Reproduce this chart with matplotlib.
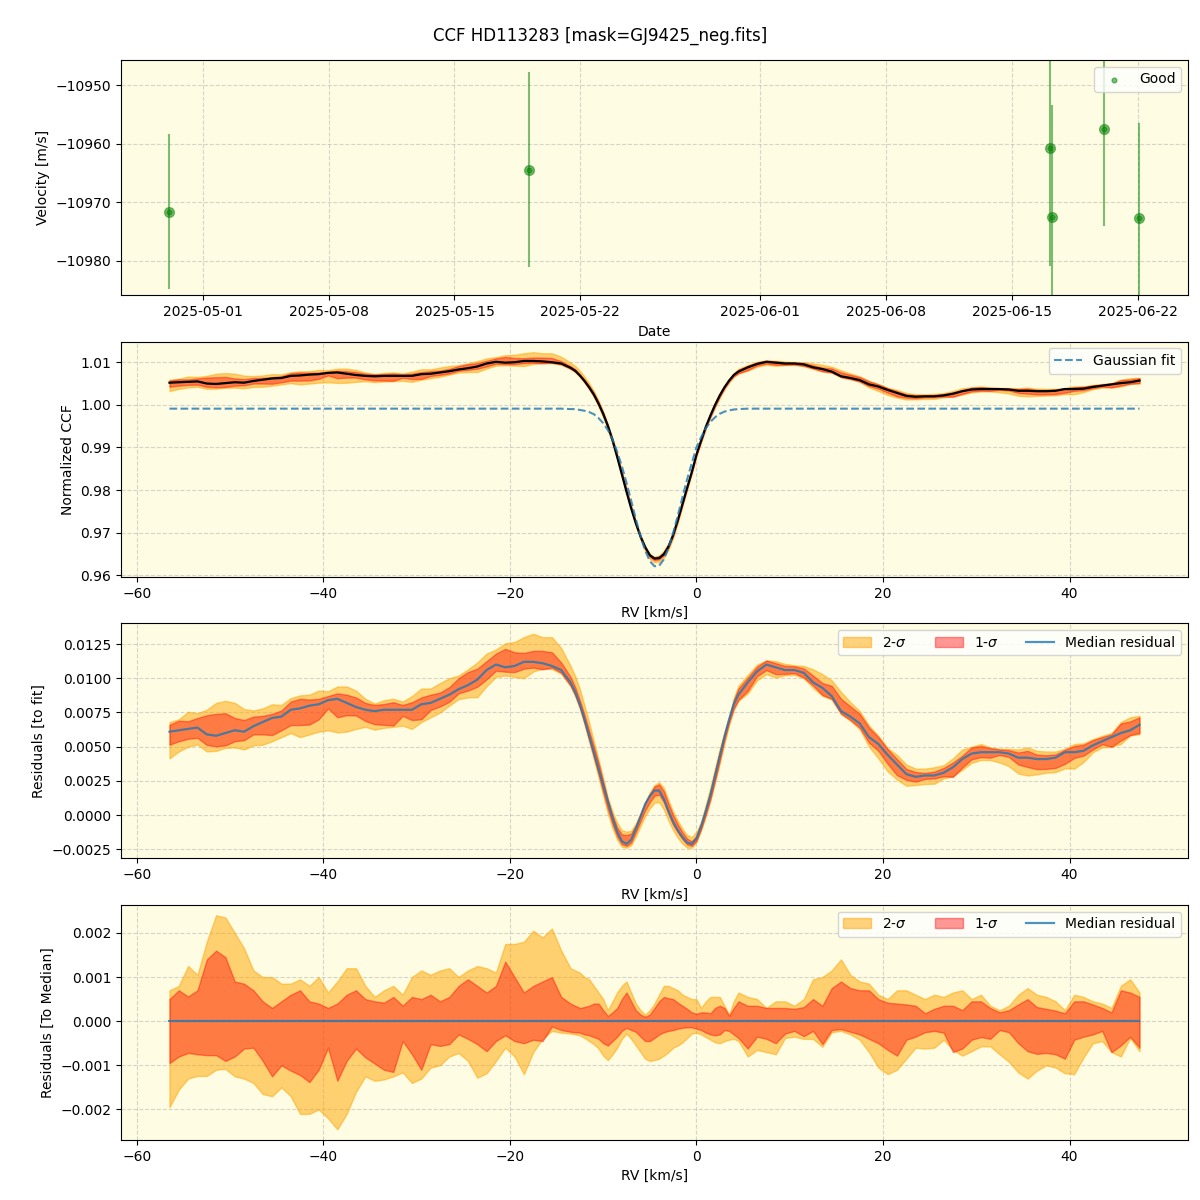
import numpy as np
import pandas as pd
import matplotlib
matplotlib.use("Agg")
import matplotlib.pyplot as plt
import matplotlib.dates as mdates

# --- RV time series (top panel) ---
dates = ["2025-04-29 03:36", "2025-05-19 04:00", "2025-06-17 02:24",
         "2025-06-17 05:16", "2025-06-20 02:24", "2025-06-22 02:24"]
velocity = [-10971.6, -10964.4, -10960.8, -10972.5, -10957.5, -10972.6]
vel_err = [13.2, 16.6, 20.0, 19.2, 16.5, 16.1]

# --- CCF profiles: 1 km/s steps on the wings, 0.5 km/s across the line ---
rv = np.concatenate([np.arange(-56.5, -14.0, 1.0),
                     np.arange(-13.5, 4.75, 0.5),
                     np.arange(5.5, 48.0, 1.0)])

gauss_fit = [0.9991] * 43 + [
    0.9990, 0.9990, 0.9988, 0.9986, 0.9983, 0.9978, 0.9969, 0.9957, 0.9941, 0.9919,
    0.9890, 0.9856, 0.9817, 0.9775, 0.9732, 0.9692, 0.9658, 0.9633, 0.9621, 0.9622,
    0.9637, 0.9664, 0.9699, 0.9740, 0.9783, 0.9825, 0.9863, 0.9900, 0.9924, 0.9945,
    0.9960, 0.9971, 0.9979, 0.9984, 0.9987, 0.9989, 0.9990] + [0.9991] * 43

# median CCF minus gaussian fit
median_resid = [
    0.0061, 0.0062, 0.0063, 0.0064, 0.0059, 0.0058, 0.0060, 0.0062, 0.0061, 0.0065,
    0.0068, 0.0071, 0.0072, 0.0077, 0.0078, 0.0080, 0.0081, 0.0084, 0.0085, 0.0082,
    0.0079, 0.0077, 0.0076, 0.0077, 0.0077, 0.0077, 0.0077, 0.0081, 0.0082, 0.0085,
    0.0088, 0.0092, 0.0095, 0.0099, 0.0106, 0.0110, 0.0108, 0.0109, 0.0112, 0.0112,
    0.0111, 0.0109, 0.0106] + [
    0.0097, 0.0090, 0.0081, 0.0070, 0.0058, 0.0046, 0.0034, 0.0022, 0.0010, -0.0002,
    -0.0012, -0.0019, -0.0021, -0.0018, -0.0010, -0.0001, 0.0008, 0.0014, 0.0018, 0.0018,
    0.0012, 0.0003, -0.0005, -0.0011, -0.0016, -0.0020, -0.0021, -0.0017, -0.0008, 0.0003,
    0.0015, 0.0029, 0.0043, 0.0057, 0.0070, 0.0081, 0.0088] + [
    0.0097, 0.0105, 0.0110, 0.0108, 0.0106, 0.0106, 0.0104, 0.0097,
    0.0093, 0.0087, 0.0076, 0.0072, 0.0067, 0.0057, 0.0052, 0.0044, 0.0037, 0.0030,
    0.0028, 0.0029, 0.0029, 0.0031, 0.0035, 0.0041, 0.0045, 0.0046, 0.0046, 0.0046,
    0.0045, 0.0042, 0.0042, 0.0041, 0.0041, 0.0042, 0.0046, 0.0046, 0.0047, 0.0051,
    0.0054, 0.0057, 0.0060, 0.0062, 0.0066]

# band edges relative to the median, in units of 1e-3
up2 = [
    0.7, 0.8, 1.25, 1.05, 1.8, 2.4, 2.35, 2.0, 1.65, 1.15,
    1.0, 1.0, 0.85, 0.85, 0.95, 0.8, 1.0, 0.65, 0.9, 1.2,
    1.2, 0.8, 0.55, 0.7, 0.8, 0.6, 1.0, 1.15, 1.05, 1.15,
    1.2, 1.0, 1.15, 1.25, 1.2, 1.1, 1.75, 1.75, 1.8, 2.05,
    1.9, 2.1, 1.6] + [
    1.2, 1.15, 1.1, 1.0, 0.95, 0.8, 0.65, 0.5, 0.25, 0.45,
    0.65, 0.8, 0.9, 0.65, 0.4, 0.25, 0.15, 0.25, 0.4, 0.6,
    0.8, 0.8, 0.75, 0.7, 0.6, 0.55, 0.5, 0.5, 0.3, 0.45,
    0.55, 0.55, 0.55, 0.35, 0.15, 0.45, 0.65] + [
    0.55, 0.5, 0.3, 0.45, 0.45, 0.35, 0.5, 0.95,
    1.0, 1.15, 1.4, 1.05, 0.9, 0.85, 0.6, 0.5, 0.7, 0.7,
    0.6, 0.5, 0.6, 0.55, 0.65, 0.7, 0.5, 0.6, 0.35, 0.25,
    0.35, 0.6, 0.75, 0.6, 0.55, 0.45, 0.25, 0.6, 0.55, 0.45,
    0.4, 0.3, 0.8, 0.95, 0.65]
up1 = [
    0.5, 0.7, 0.56, 0.7, 1.4, 1.6, 1.45, 0.9, 0.85, 0.7,
    0.45, 0.3, 0.45, 0.6, 0.7, 0.45, 0.4, 0.3, 0.4, 0.6,
    0.7, 0.5, 0.45, 0.42, 0.55, 0.35, 0.55, 0.5, 0.6, 0.45,
    0.55, 0.8, 0.95, 0.8, 0.65, 0.8, 1.35, 1.0, 0.65, 0.8,
    0.9, 1.0, 0.55] + [
    0.4, 0.35, 0.3, 0.32, 0.35, 0.4, 0.4, 0.25, 0.12, 0.2,
    0.3, 0.5, 0.65, 0.45, 0.25, 0.15, 0.1, 0.15, 0.3, 0.45,
    0.55, 0.52, 0.5, 0.42, 0.35, 0.28, 0.2, 0.17, 0.2, 0.2,
    0.18, 0.3, 0.35, 0.3, 0.12, 0.3, 0.45] + [
    0.35, 0.35, 0.3, 0.3, 0.3, 0.28, 0.32, 0.5,
    0.35, 0.75, 0.9, 0.75, 0.7, 0.7, 0.5, 0.42, 0.4, 0.38,
    0.35, 0.18, 0.28, 0.35, 0.35, 0.25, 0.45, 0.45, 0.3, 0.2,
    0.25, 0.38, 0.5, 0.32, 0.28, 0.24, 0.18, 0.45, 0.45, 0.38,
    0.3, 0.2, 0.7, 0.65, 0.55]
lo1 = [
    -0.95, -0.8, -0.72, -0.75, -0.77, -0.77, -0.9, -0.8, -0.62, -0.6,
    -0.9, -1.25, -1.0, -1.12, -1.22, -1.38, -1.1, -0.6, -1.35, -0.9,
    -0.62, -0.82, -0.96, -1.1, -1.15, -0.45, -0.75, -1.1, -0.52, -0.56,
    -0.52, -0.3, -0.4, -0.52, -0.68, -0.45, -0.32, -0.45, -0.5, -0.42,
    -0.45, -0.12, -0.2] + [
    -0.24, -0.25, -0.26, -0.3, -0.32, -0.36, -0.4, -0.5, -0.55, -0.45,
    -0.35, -0.22, -0.15, -0.2, -0.24, -0.35, -0.45, -0.45, -0.38, -0.3,
    -0.25, -0.22, -0.2, -0.17, -0.15, -0.14, -0.14, -0.17, -0.2, -0.26,
    -0.3, -0.32, -0.3, -0.2, -0.22, -0.3, -0.38] + [
    -0.62, -0.35, -0.4, -0.5, -0.28, -0.22, -0.34, -0.22,
    -0.52, -0.2, -0.18, -0.24, -0.3, -0.4, -0.5, -0.65, -0.78, -0.42,
    -0.35, -0.25, -0.22, -0.26, -0.7, -0.62, -0.42, -0.36, -0.4, -0.2,
    -0.25, -0.5, -0.68, -0.74, -0.72, -0.75, -0.85, -0.42, -0.35, -0.3,
    -0.22, -0.7, -0.55, -0.35, -0.6]
lo2 = [
    -1.95, -1.55, -1.3, -1.24, -1.24, -1.1, -1.08, -1.25, -1.3, -1.4,
    -1.65, -1.7, -1.5, -1.7, -2.1, -2.1, -2.0, -2.2, -2.45, -2.1,
    -1.6, -1.25, -1.35, -1.32, -1.25, -1.16, -1.4, -1.3, -1.05, -1.0,
    -0.8, -0.72, -0.9, -1.28, -1.18, -0.9, -0.6, -0.8, -1.2, -0.7,
    -0.4, -0.22, -0.26] + [
    -0.28, -0.3, -0.32, -0.38, -0.45, -0.52, -0.62, -0.78, -0.88, -0.75,
    -0.6, -0.4, -0.28, -0.4, -0.55, -0.7, -0.85, -0.9, -0.88, -0.85,
    -0.78, -0.7, -0.6, -0.55, -0.48, -0.38, -0.28, -0.26, -0.3, -0.36,
    -0.42, -0.48, -0.5, -0.45, -0.42, -0.4, -0.45] + [
    -0.8, -0.65, -0.7, -0.75, -0.38, -0.35, -0.4, -0.4,
    -0.58, -0.25, -0.22, -0.3, -0.42, -0.7, -1.05, -1.2, -1.1, -0.85,
    -0.6, -0.62, -0.6, -0.42, -0.65, -0.78, -0.68, -0.57, -0.57, -0.75,
    -0.92, -1.16, -1.3, -1.12, -1.0, -1.05, -1.18, -1.2, -0.82, -0.5,
    -0.45, -0.7, -0.8, -0.38, -0.68]

fit = np.array(gauss_fit)
resid = np.array(median_resid)
d_up2, d_up1 = np.array(up2) * 1e-3, np.array(up1) * 1e-3
d_lo1, d_lo2 = np.array(lo1) * 1e-3, np.array(lo2) * 1e-3
ccf = fit + resid

bg = "#fefce2"
fig, axes = plt.subplots(4, 1, figsize=(12, 12), dpi=100)
fig.subplots_adjust(left=0.1008, right=0.99, top=0.95, bottom=0.05, hspace=0.196)
fig.suptitle("CCF HD113283 [mask=GJ9425_neg.fits]", y=0.978, fontsize=12)

for ax in axes:
    ax.set_facecolor(bg)
    ax.grid(True, linestyle="--", alpha=0.5)
    ax.set_axisbelow(True)

# top: velocities
ax = axes[0]
t = pd.to_datetime(dates)
ax.errorbar(t, velocity, yerr=vel_err, fmt="o", color="green", alpha=0.5,
            ms=7, elinewidth=1.5)
ax.scatter(t, velocity, s=12, color="green", alpha=0.5, label="Good", zorder=3)
ax.set_ylim(-10985.9, -10945.7)
ax.xaxis.set_major_locator(mdates.DayLocator(bymonthday=[1, 8, 15, 22]))
ax.xaxis.set_major_formatter(mdates.DateFormatter("%Y-%m-%d"))
ax.ticklabel_format(axis="y", useOffset=False)
ax.set_xlabel("Date")
ax.set_ylabel("Velocity [m/s]")
ax.legend(loc="upper right")


def bands(ax, center, with_labels):
    ax.fill_between(rv, center + d_lo2, center + d_up2, color="orange", alpha=0.5,
                    label="2-$\\sigma$" if with_labels else None)
    ax.fill_between(rv, center + d_lo1, center + d_up1, color="red", alpha=0.4,
                    label="1-$\\sigma$" if with_labels else None)


# normalized CCF
ax = axes[1]
bands(ax, ccf, False)
ax.plot(rv, ccf, color="black", lw=1.6)
ax.plot(rv, fit, "--", color="C0", alpha=0.8, lw=1.5, label="Gaussian fit")
ax.set_xlabel("RV [km/s]")
ax.set_ylabel("Normalized CCF")
ax.legend(loc="upper right")

# residuals to fit
ax = axes[2]
bands(ax, resid, True)
ax.plot(rv, resid, color="C0", alpha=0.8, lw=1.6, label="Median residual")
ax.set_xlabel("RV [km/s]")
ax.set_ylabel("Residuals [to fit]")
ax.legend(loc="upper right", ncol=3)

# residuals to median
ax = axes[3]
zero = np.zeros_like(rv)
bands(ax, zero, True)
ax.plot(rv, zero, color="C0", alpha=0.8, lw=1.6, label="Median residual")
ax.set_xlabel("RV [km/s]")
ax.set_ylabel("Residuals [To Median]")
ax.legend(loc="upper right", ncol=3)

fig.savefig("out.png", dpi=100)
